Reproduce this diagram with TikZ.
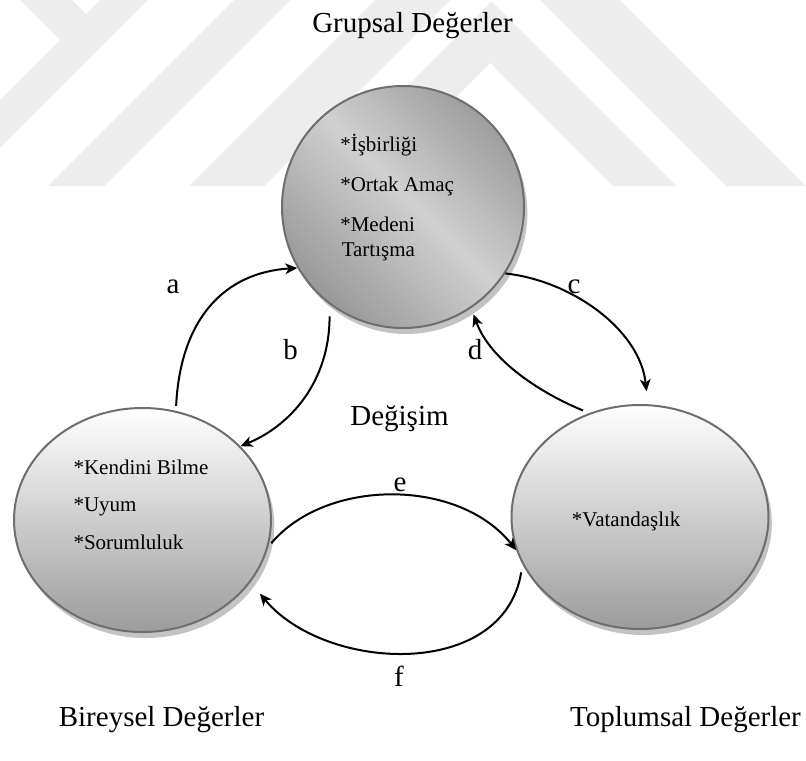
\documentclass[tikz,border=0pt]{standalone}
\usepackage{fontspec}
\setmainfont{Liberation Serif}
\usetikzlibrary{arrows.meta,shapes.geometric,shadows}
\definecolor{markgray}{HTML}{EDEDED}
\definecolor{rimgray}{HTML}{6E6E6E}
\definecolor{shadegray}{HTML}{C3C3C3}
\definecolor{darkfill}{HTML}{8A8A8A}
\definecolor{lightfill}{HTML}{D0D0D0}
\definecolor{lowfill}{HTML}{9C9C9C}
% diagonal grey ramp: dark at both ends, light across the middle
\pgfdeclarehorizontalshading{grpshade}{100bp}{color(0bp)=(darkfill); color(18bp)=(darkfill); color(52bp)=(lightfill); color(84bp)=(darkfill); color(100bp)=(darkfill)}
\begin{document}
\begin{tikzpicture}[x=0.75pt,y=-0.75pt,
  valuebox/.style={inner sep=0pt, draw=rimgray, line width=1.5pt,
    drop shadow={shadow xshift=2.5pt, shadow yshift=-4.5pt, fill=shadegray, opacity=1}},
  title/.style={font=\fontsize{21.75pt}{26pt}\selectfont, inner sep=0pt, anchor=base},
  item/.style={font=\fontsize{15.75pt}{19pt}\selectfont, inner sep=0pt, anchor=base west},
  flow/.style={-{Stealth[length=9pt,width=8pt,inset=2.5pt]}, line width=1.5pt, black}
]
\useasboundingbox (0,0) rectangle (806,760);

% background stripes
\fill[markgray] (20,0) -- (72,0) -- (86,14) -- (60,40) -- cycle;
\fill[markgray] (100,0) -- (148,0) -- (0,148) -- (0,100) -- cycle;
\fill[markgray] (234,0) -- (290,0) -- (104,186) -- (48,186) -- cycle;
\fill[markgray] (375,0) -- (450,0) -- (264,186) -- (189,186) -- cycle;
\fill[markgray] (307,186) -- (491.5,1.5) -- (676,186) -- (613,186) -- (490,63) -- (367,186) -- cycle;
\fill[markgray] (540,0) -- (620,0) -- (806,186) -- (726,186) -- cycle;

% the three value groups
\node[valuebox, circle, minimum size=181.5pt,
  path picture={\shade[shading=grpshade, shading angle=45]
    (path picture bounding box.south west) rectangle (path picture bounding box.north east);}]
  (grp) at (403,207) {};
\node[valuebox, ellipse, minimum width=192.75pt, minimum height=168pt,
  top color=white, bottom color=lowfill] (bir) at (142.5,520) {};
\node[valuebox, ellipse, minimum width=192.75pt, minimum height=168pt,
  top color=white, bottom color=lowfill] (tpl) at (640,517) {};

% contents
\node[item] (g1) at (340,151) {*İşbirliği};
\node[item] (g2) at (340,191.7) {*Ortak Amaç};
\node[item] (g3) at (340,231.7) {*Medeni};
\node[item] (g4) at (341.5,256.7) {Tartışma};
\node[item] (b1) at (73.3,474) {*Kendini Bilme};
\node[item] (b2) at (73.3,511.7) {*Uyum};
\node[item] (b3) at (73.3,549.3) {*Sorumluluk};
\node[item] (t1) at (571.7,526.7) {*Vatandaşlık};

% headings
\node[title] (grpt) at (412.5,32.7) {Grupsal Değerler};
\node[title] (birt) at (161.5,726) {Bireysel Değerler};
\node[title] (tplt) at (685.5,726) {Toplumsal Değerler};
\node[title] (chg) at (399.5,425) {Değişim};

% flows between the groups
\draw[flow, shorten <=3.75pt] (bir.73) .. controls +(4.5,-92) and +(-73,4.5) .. (grp.210);
\draw[flow, shorten <=9pt] (grp.233.5) .. controls +(0,76) and +(51,-21) .. (bir.37.6);
\draw[flow, shorten >=9.75pt] (grp.-33) .. controls +(65.5,7) and +(-8,-75) .. (tpl.86);
\draw[flow, shorten <=5pt, shorten >=5pt] (tpl.116.8) .. controls +(-48,-19.6) and +(19.3,52.7) .. (grp.-56);
\draw[flow, shorten <=3.5pt] (bir.-12) .. controls +(57.7,-68.5) and +(-57.9,-72.6) .. (tpl.195.4);
\draw[flow, shorten <=6pt, shorten >=11pt] (tpl.202) .. controls +(-19,116) and +(75,90) .. (bir.-30);

% flow labels
\node[title] (la) at (173,293) {a};
\node[title] (lb) at (290.7,359.3) {b};
\node[title] (lc) at (574,293) {c};
\node[title] (ld) at (475,359) {d};
\node[title] (le) at (400,491.7) {e};
\node[title] (lf) at (399,686.7) {f};
\end{tikzpicture}
\end{document}
